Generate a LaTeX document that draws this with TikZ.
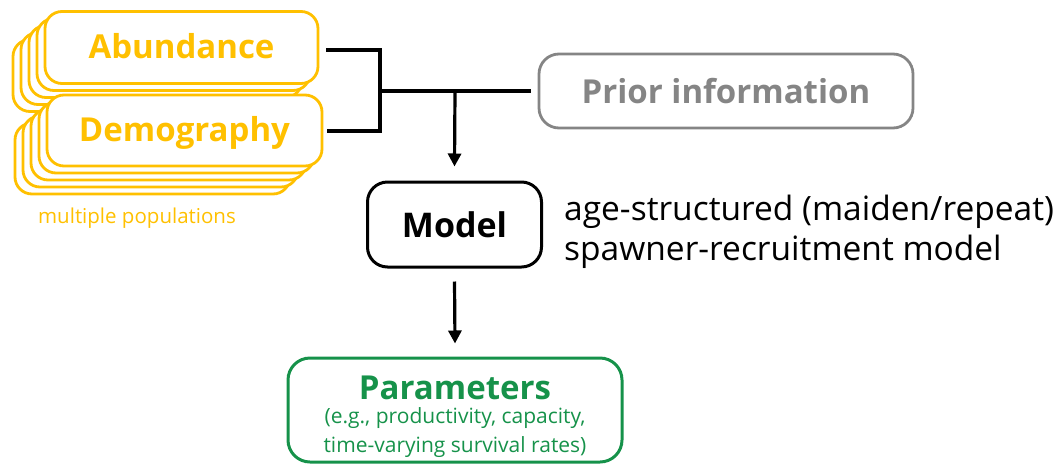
\documentclass[tikz,border=0pt]{standalone}
\usepackage{fontspec}
\setmainfont{Open Sans}
\usetikzlibrary{arrows.meta}
\definecolor{yel}{HTML}{FFC000}
\definecolor{gry}{HTML}{858585}
\definecolor{grn}{HTML}{16924A}
\tikzset{
  ybox/.style={draw=yel, line width=2.8pt, fill=white, rounded corners=17pt, minimum width=273pt, minimum height=72pt, inner sep=0pt},
  bigtxt/.style={font=\fontsize{33}{38}\selectfont\bfseries},
  conn/.style={line width=3.2pt, black},
  arr/.style={conn, -{Triangle[width=13pt,length=13pt]}},
}
\begin{document}
\begin{tikzpicture}[x=1pt,y=-1pt]
\useasboundingbox (0,0) rectangle (1059,464);
% Abundance stack
\foreach \k in {4,3,2,1}{
  \node[ybox] (abk\k) at ({181.5-8*\k},{47.5+7*\k}) {};
}
\node[ybox, text=yel, bigtxt, text depth=0pt, text height=22pt] (ab) at (181.5,47.5) {Abundance};
% Demography stack
\foreach \k in {4,3,2,1}{
  \node[ybox, minimum width=275pt, minimum height=71pt] (demk\k) at ({184.5-8*\k},{130.5+7*\k}) {};
}
\node[ybox, minimum width=275pt, minimum height=71pt, text=yel, bigtxt] (dem) at (184.5,130.5) {};
\node[text=yel, bigtxt] (demt) at (184.5,132.5) {Demography};
\node[text=yel, font=\fontsize{20.5}{24}\selectfont] (mp) at (137,218) {multiple populations};
% prior
\node[draw=gry, line width=2.8pt, rounded corners=20pt, minimum width=374pt, minimum height=74pt, text=gry, bigtxt] (prior) at (726,91) {Prior information};
% model
\node[draw=black, line width=3pt, rounded corners=20pt, minimum width=174pt, minimum height=85pt, font=\fontsize{34}{38}\selectfont\bfseries] (model) at (454.5,224.5) {Model};
\node[anchor=west, align=left, font=\fontsize{33.5}{40}\selectfont, inner sep=0pt] (desc) at (564,232) {age-structured (maiden/repeat)\\spawner-recruitment model};
% parameters
\node[draw=grn, line width=3pt, rounded corners=22pt, minimum width=334pt, minimum height=104pt] (par) at (455,410) {};
\node[text=grn, bigtxt] (ptitle) at (455,388) {Parameters};
\node[text=grn, align=center, font=\fontsize{21}{29}\selectfont] (psub) at (455,433) {(e.g., productivity, capacity,\\time-varying survival rates)};
% connectors
\coordinate (ja) at (380,50);
\coordinate (jd) at (380,131);
\coordinate (jn) at (380,91);
\coordinate (br) at (455,91);
\draw[conn] ([xshift=7pt]ab.east |- ja) -- (ja) -- (jd) -- ([xshift=4pt]dem.east |- jd);
\draw[conn] (jn) -- ([xshift=-7pt]prior.west);
\draw[arr] (br) -- ([yshift=14pt]model.north);
\draw[arr] ([yshift=-13pt]model.south) -- ([yshift=13pt]par.north);
\end{tikzpicture}
\end{document}
